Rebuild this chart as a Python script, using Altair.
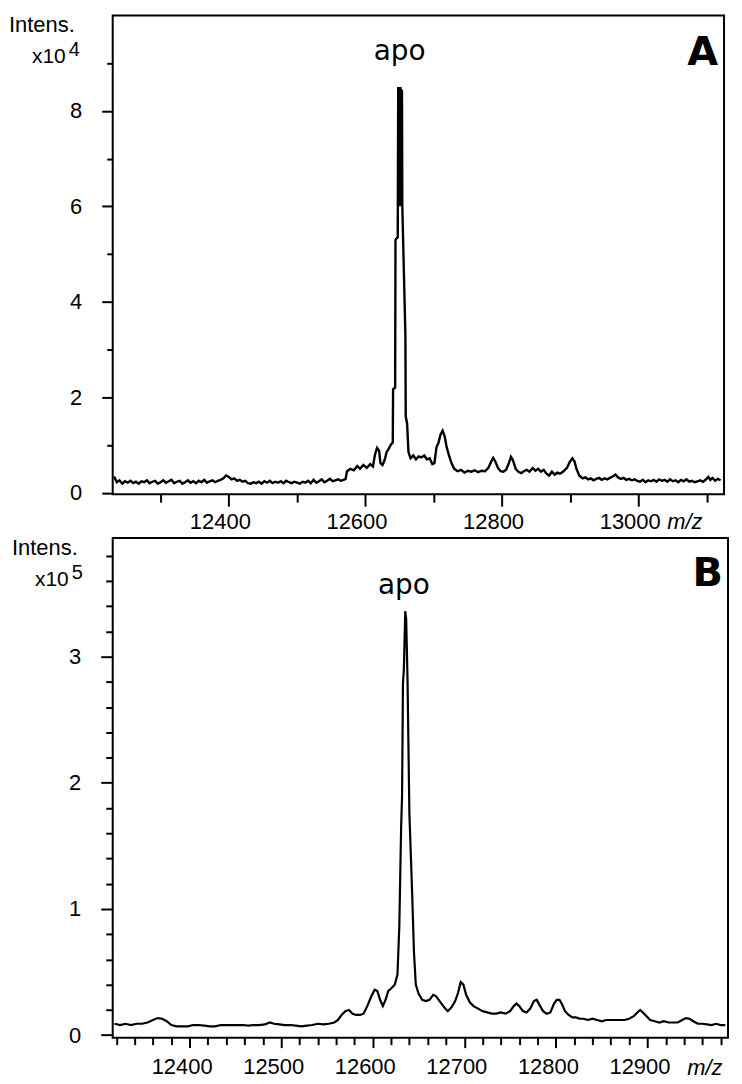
import altair as alt
import pandas as pd

# ---------------- Panel A : m/z vs intensity (x10^4) ----------------
mz_a = [12232, 12236, 12240, 12244, 12248, 12252, 12256, 12260, 12264, 12268,
        12272, 12276, 12280, 12284, 12288, 12292, 12296, 12300, 12304, 12308,
        12312, 12316, 12320, 12324, 12328, 12332, 12336, 12340, 12344, 12348,
        12352, 12356, 12360, 12364, 12368, 12372, 12376, 12380, 12384, 12388,
        12392, 12396, 12400, 12404, 12408, 12412, 12416, 12420, 12424, 12428,
        12432, 12436, 12440, 12444, 12448, 12452, 12456, 12460, 12464, 12468,
        12472, 12476, 12480, 12484, 12488, 12492, 12496, 12500, 12504, 12508,
        12512, 12516, 12520, 12524, 12528, 12532, 12536, 12540, 12544, 12548,
        12552, 12556, 12560, 12564, 12568, 12571,
        12573, 12578, 12583, 12588, 12592, 12597, 12602, 12607, 12611, 12614,
        12617, 12620, 12622, 12625, 12628, 12631, 12634, 12637, 12640, 12640.5,
        12643.5, 12644, 12647.3, 12648, 12648.8, 12649.6, 12650.4, 12651.2, 12652, 12652.8,
        12653.5, 12654, 12658.5, 12659, 12661, 12663, 12666, 12670, 12674, 12678,
        12682, 12686, 12690, 12694, 12698, 12701, 12704, 12707, 12710, 12713,
        12716, 12719, 12722, 12726, 12730, 12735, 12740, 12745, 12750, 12755,
        12760, 12765, 12770, 12775, 12780, 12784, 12787, 12790, 12794, 12798,
        12802, 12806, 12810, 12813, 12816, 12820, 12824, 12828, 12832, 12836,
        12840, 12845, 12849, 12853, 12857, 12861, 12865, 12869, 12873, 12877,
        12881, 12885, 12890, 12895, 12899, 12903, 12906, 12909, 12913,
        12918, 12922, 12926, 12930, 12934, 12938, 12942, 12946, 12950, 12954,
        12958, 12962, 12966, 12970, 12974, 12978, 12982, 12986, 12990, 12994,
        12998, 13002, 13006, 13010, 13014, 13018, 13022, 13026, 13030, 13034,
        13038, 13042, 13046, 13050, 13054, 13058, 13062, 13066, 13070, 13074,
        13078, 13082, 13086, 13090, 13094, 13098, 13102, 13105, 13108, 13112,
        13116, 13120]
int_a = [0.34, 0.22, 0.26, 0.19, 0.24, 0.21, 0.25, 0.20, 0.23, 0.19,
         0.24, 0.22, 0.26, 0.20, 0.23, 0.25, 0.19, 0.22, 0.26, 0.21,
         0.24, 0.27, 0.20, 0.23, 0.25, 0.19, 0.22, 0.26, 0.21, 0.24,
         0.20, 0.25, 0.22, 0.27, 0.21, 0.24, 0.26, 0.22, 0.25, 0.27,
         0.30, 0.36, 0.33, 0.28, 0.30, 0.25, 0.27, 0.23, 0.25, 0.20,
         0.19, 0.22, 0.20, 0.23, 0.19, 0.24, 0.21, 0.25, 0.20, 0.23,
         0.21, 0.24, 0.20, 0.25, 0.22, 0.20, 0.23, 0.21, 0.19, 0.23,
         0.21, 0.25, 0.20, 0.27, 0.21, 0.24, 0.28, 0.22, 0.25, 0.29,
         0.24, 0.26, 0.28, 0.25, 0.27, 0.29,
         0.45, 0.50, 0.47, 0.56, 0.50, 0.58, 0.52, 0.60, 0.55, 0.80,
         0.94, 0.88, 0.62, 0.58, 0.68, 0.85, 0.92, 1.00, 1.05, 2.17,
         2.20, 5.30, 5.35, 8.50, 6.00, 8.50, 6.00, 8.50, 6.10, 8.45,
         8.40, 6.00, 3.30, 1.60, 1.45, 0.85, 0.72, 0.78, 0.70, 0.76,
         0.74, 0.78, 0.70, 0.72, 0.60, 0.62, 0.95, 1.05, 1.22, 1.30,
         1.18, 0.95, 0.80, 0.62, 0.50, 0.45, 0.48, 0.42, 0.46, 0.44,
         0.47, 0.43, 0.46, 0.45, 0.52, 0.65, 0.73, 0.66, 0.52, 0.45,
         0.44, 0.48, 0.62, 0.75, 0.68, 0.50, 0.44, 0.41, 0.45, 0.48,
         0.44, 0.52, 0.46, 0.50, 0.44, 0.48, 0.40, 0.36, 0.44, 0.38,
         0.42, 0.40, 0.45, 0.52, 0.64, 0.72, 0.66, 0.50, 0.36,
         0.30, 0.32, 0.28, 0.30, 0.26, 0.29, 0.31, 0.27, 0.30, 0.28,
         0.31, 0.34, 0.38, 0.32, 0.29, 0.31, 0.27, 0.29, 0.26, 0.28,
         0.25, 0.23, 0.27, 0.22, 0.26, 0.24, 0.27, 0.23, 0.28, 0.25,
         0.27, 0.23, 0.28, 0.24, 0.26, 0.22, 0.27, 0.24, 0.28, 0.23,
         0.25, 0.22, 0.24, 0.26, 0.23, 0.27, 0.33, 0.27, 0.31, 0.25,
         0.29, 0.26]

# ---------------- Panel B : m/z vs intensity (x10^5) ----------------
mz_b = [12318, 12324, 12330, 12336, 12342, 12348, 12354, 12360, 12365, 12370,
        12375, 12380, 12386, 12392, 12398, 12404, 12410, 12416, 12422, 12428,
        12434, 12440, 12446, 12452, 12458, 12464, 12470, 12476, 12482, 12488,
        12492, 12498, 12504, 12510, 12516, 12522, 12528, 12534, 12540, 12546,
        12552, 12558, 12562, 12566, 12570, 12574, 12578, 12582, 12586, 12590,
        12594, 12598, 12602, 12605, 12608, 12611, 12614, 12617, 12620, 12624,
        12627, 12629, 12631, 12632, 12633, 12634, 12635.5, 12636.5, 12638, 12640,
        12643, 12645, 12647, 12650, 12654, 12658, 12662, 12666, 12669, 12673,
        12678, 12682, 12686, 12690, 12693, 12696, 12699, 12702, 12706, 12710,
        12715, 12720, 12725, 12730, 12735, 12740, 12745, 12750, 12754, 12757,
        12760, 12764, 12768, 12772, 12776, 12779, 12782, 12786, 12790, 12794,
        12798, 12801, 12804, 12807, 12810, 12814, 12818, 12822, 12826, 12830,
        12835, 12840, 12845, 12850, 12855, 12860, 12865, 12870, 12875, 12880,
        12885, 12889, 12892, 12895, 12899, 12903, 12908, 12913, 12918, 12923,
        12928, 12933, 12938, 12942, 12946, 12950, 12955, 12960, 12965, 12970,
        12975, 12980, 12985]
int_b = [0.09, 0.08, 0.09, 0.08, 0.09, 0.09, 0.10, 0.12, 0.135, 0.13,
         0.11, 0.08, 0.07, 0.07, 0.07, 0.08, 0.08, 0.075, 0.07, 0.07,
         0.08, 0.08, 0.08, 0.08, 0.08, 0.075, 0.08, 0.08, 0.085, 0.10,
         0.09, 0.085, 0.08, 0.08, 0.075, 0.07, 0.075, 0.08, 0.09, 0.085,
         0.09, 0.10, 0.12, 0.16, 0.19, 0.20, 0.17, 0.16, 0.16, 0.17,
         0.23, 0.30, 0.36, 0.35, 0.28, 0.23, 0.28, 0.35, 0.37, 0.40,
         0.48, 0.86, 1.65, 1.89, 2.79, 2.90, 3.36, 3.30, 2.81, 1.76,
         1.13, 0.66, 0.40, 0.33, 0.28, 0.27, 0.28, 0.32, 0.31, 0.27,
         0.22, 0.19, 0.22, 0.27, 0.33, 0.42, 0.40, 0.32, 0.26, 0.23,
         0.21, 0.19, 0.18, 0.17, 0.17, 0.18, 0.17, 0.19, 0.23, 0.25,
         0.23, 0.19, 0.18, 0.21, 0.27, 0.28, 0.24, 0.19, 0.17, 0.18,
         0.25, 0.28, 0.28, 0.24, 0.19, 0.16, 0.14, 0.14, 0.13, 0.13,
         0.12, 0.13, 0.12, 0.11, 0.12, 0.12, 0.12, 0.12, 0.12, 0.13,
         0.15, 0.18, 0.20, 0.18, 0.15, 0.12, 0.11, 0.10, 0.11, 0.10,
         0.10, 0.10, 0.12, 0.135, 0.13, 0.11, 0.09, 0.09, 0.085, 0.08,
         0.09, 0.08, 0.08]

# ---------------- ticks / labels ----------------
a_xmajor = [12400, 12600, 12800, 13000]
a_xminor = [12300, 12500, 12700, 12900, 13100]
a_ymajor = [0, 2, 4, 6, 8]
a_yminor = [1, 3, 5, 7, 9]
b_xmajor = [12400, 12500, 12600, 12700, 12800, 12900]
b_xminor = [12320, 12340, 12360, 12380, 12420, 12440, 12460, 12480, 12520, 12540,
            12560, 12580, 12620, 12640, 12660, 12680, 12720, 12740, 12760, 12780,
            12820, 12840, 12860, 12880, 12920, 12940, 12960, 12980]
b_ymajor = [0, 1, 2, 3]
b_yminor = [0.2, 0.4, 0.6, 0.8, 1.2, 1.4, 1.6, 1.8, 2.2, 2.4, 2.6, 2.8,
            3.2, 3.4, 3.6, 3.8]

peak_text = ["apo"]
a_peak_mz = [12650]
a_peak_int = [9.06]
b_peak_mz = [12634]
b_peak_int = [3.5]

y_title = "Intens."
y_mult = "x10"
a_exp = "4"
b_exp = "5"
x_unit = "m/z"
a_letter = "A"
b_letter = "B"

LF = "Liberation Sans"
FS = 22


def txt(s, x, y, **kw):
    return alt.Chart(pd.DataFrame({"t": [s]})).mark_text(**kw).encode(
        x=alt.value(x), y=alt.value(y), text="t:N")


def panel(mz, inten, xdom, ydom, w, h, xmaj, xmin, ymaj, ymin,
          xtick_maj, xtick_min, ytick_maj, ytick_min, xlab_pad, xlab_off,
          peak_mz, peak_int, letter, exp, intens_x, letter_x, letter_y,
          mz_x, mz_y, lw):
    df = pd.DataFrame({"mz": mz, "i": inten})
    xs = alt.Scale(domain=xdom, nice=False, zero=False)
    ys = alt.Scale(domain=ydom, nice=False, zero=False)
    common = dict(grid=False, domain=False, title=None, tickColor="black",
                  tickWidth=2, labelColor="black", labelFont=LF,
                  labelFontSize=FS)
    line = alt.Chart(df).mark_line(color="black", strokeWidth=lw,
                                   clip=True).encode(
        x=alt.X("mz:Q", scale=xs,
                axis=alt.Axis(values=xmaj, format="d", tickSize=xtick_maj,
                              labelPadding=xlab_pad, labelOffset=xlab_off,
                              orient="bottom", labelFlush=False, **common)),
        y=alt.Y("i:Q", scale=ys,
                axis=alt.Axis(values=ymaj, format="d", tickSize=ytick_maj,
                              labelPadding=20, orient="left", **common)),
    )
    minor = alt.Chart(df).mark_line(strokeOpacity=0).encode(
        x=alt.X("mz:Q", scale=xs,
                axis=alt.Axis(values=xmin, labels=False, tickSize=xtick_min,
                              orient="bottom", **common)),
        y=alt.Y("i:Q", scale=ys,
                axis=alt.Axis(values=ymin, labels=False, tickSize=ytick_min,
                              orient="left", **common)),
    )
    apo = alt.Chart(pd.DataFrame({"mz": peak_mz, "i": peak_int,
                                  "t": peak_text})).mark_text(
        font="DejaVu Sans", fontSize=28, baseline="alphabetic",
        align="center", color="black").encode(
        x=alt.X("mz:Q", scale=xs, axis=None),
        y=alt.Y("i:Q", scale=ys, axis=None),
        text="t:N")
    layers = [
        line, minor, apo,
        txt(letter, letter_x, letter_y, font="DejaVu Sans", fontWeight="bold",
            fontSize=40, align="right", baseline="alphabetic", color="black"),
        txt(y_title, intens_x, 17, font=LF, fontSize=22, align="left",
            baseline="alphabetic", color="black"),
        txt(y_mult, intens_x + 23, 48, font=LF, fontSize=21, align="left",
            baseline="alphabetic", color="black"),
        txt(exp, intens_x + 60, 41, font=LF, fontSize=20, align="left",
            baseline="alphabetic", color="black"),
        txt(x_unit, mz_x, mz_y, font=LF, fontSize=FS, fontStyle="italic",
            align="left", baseline="alphabetic", color="black"),
    ]
    return alt.layer(*layers).resolve_axis(
        x="independent", y="independent").properties(width=w, height=h)


panel_a = panel(mz_a, int_a, [12230, 13125], [-0.03, 10.0], 613, 480,
                a_xmajor, a_xminor, a_ymajor, a_yminor, 12, 8, 11, 6, 5, -9,
                a_peak_mz, a_peak_int, a_letter, a_exp, -104, 607, 50,
                556, 515, 2.4)
panel_b = panel(mz_b, int_b, [12316, 12988], [-0.02, 3.94], 617, 501,
                b_xmajor, b_xminor, b_ymajor, b_yminor, 10, 7, 12, 7, 9, -8,
                b_peak_mz, b_peak_int, b_letter, b_exp, -101, 612, 48,
                576, 538, 2.2)

chart = alt.vconcat(panel_a, panel_b, spacing=2).properties(
    padding={"left": 0, "top": 4, "right": 5, "bottom": 5}
).configure(background="white").configure_view(
    stroke="black", strokeWidth=2
).configure_axis(labelFont=LF, labelFontSize=FS, labelColor="black")

chart.save("out.html", embed_options={"renderer": "svg", "actions": False})
